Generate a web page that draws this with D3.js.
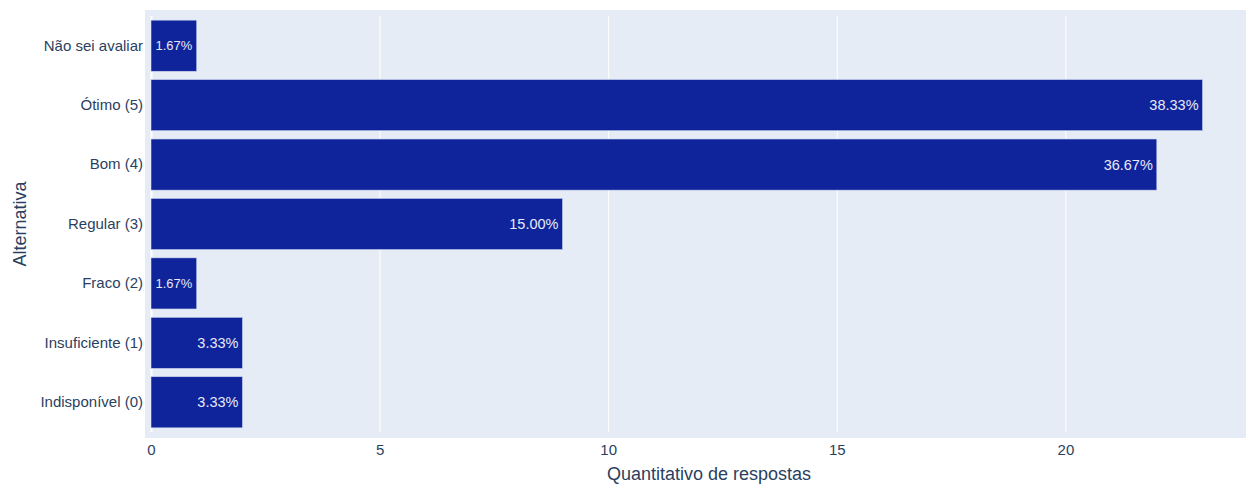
<!DOCTYPE html>
<html><head><meta charset="utf-8">
<script src="https://cdn.jsdelivr.net/npm/d3@7"></script>
<style>html,body{margin:0;padding:0;background:#fff;}svg{display:block;font-family:"Liberation Sans",Arial,sans-serif;}</style>
</head><body>
<svg id="c" width="1246" height="488"></svg>
<script>
const categories = ["Não sei avaliar","Ótimo (5)","Bom (4)","Regular (3)","Fraco (2)","Insuficiente (1)","Indisponível (0)"];
const counts = [1,23,22,9,1,2,2];
const percentLabels = ["1.67%","38.33%","36.67%","15.00%","1.67%","3.33%","3.33%"];
const xTicks = [0,5,10,15,20];

const svg = d3.select("#c");
const plot = {l:151, r:1267, t:16, b:432};
const pad = 6;
const textColor = "#2a3f5f";
const barColor = "#0f239b";

const x = d3.scaleLinear().domain([0, 24.41]).range([plot.l, plot.r]);
const y = d3.scaleBand().domain(categories).range([plot.t, plot.b]).paddingInner(0.14).paddingOuter(0.07);

svg.append("rect").attr("x", plot.l-pad).attr("y", plot.t-pad)
  .attr("width", plot.r-plot.l+2*pad).attr("height", plot.b-plot.t+2*pad).attr("fill", "#e5ecf6");

// grid
const xAxis = d3.axisBottom(x).tickValues(xTicks).tickSize(plot.b-plot.t).tickFormat(d3.format("d"));
const gx = svg.append("g").attr("transform", `translate(0,${plot.t})`).call(xAxis);
gx.select(".domain").remove();
gx.selectAll(".tick line").attr("stroke", "#fff").attr("stroke-width", d => d===0 ? 2 : 1);
gx.selectAll(".tick text").attr("fill", textColor).attr("font-size", "15px")
  .attr("y", plot.b-plot.t+12).attr("dy", "0.71em");

// bars
svg.append("g").selectAll("rect").data(categories).join("rect")
  .attr("x", x(0)).attr("y", d => y(d))
  .attr("width", (d,i) => x(counts[i]) - x(0)).attr("height", y.bandwidth())
  .attr("fill", barColor).attr("stroke", "#c8d2ec").attr("stroke-width", 0.6);

// bar labels
const baseSize = 14.5;
svg.append("g").selectAll("text").data(categories).join("text")
  .attr("x", (d,i) => x(counts[i]) - 4)
  .attr("y", d => y(d) + y.bandwidth()/2)
  .attr("dy", "0.35em").attr("text-anchor", "end")
  .attr("fill", "#e8eaf5").attr("font-size", baseSize + "px")
  .text((d,i) => percentLabels[i])
  .each(function(d,i){
    const avail = x(counts[i]) - x(0) - 9;
    const w = this.getComputedTextLength();
    if (w > avail) {
      const s = baseSize * avail / w;
      d3.select(this).attr("font-size", s + "px").attr("x", x(0) + (x(counts[i]) - x(0))/2).attr("text-anchor", "middle");
    }
  });

// y axis labels
const yAxis = d3.axisLeft(y).tickSize(0).tickPadding(0);
const gy = svg.append("g").attr("transform", `translate(${plot.l-8},0)`).call(yAxis);
gy.select(".domain").remove();
gy.selectAll(".tick text").attr("fill", textColor).attr("font-size", "15px");

// axis titles
svg.append("text").attr("x", (plot.l+plot.r)/2).attr("y", 480).attr("text-anchor", "middle")
  .attr("fill", textColor).attr("font-size", "18px").text("Quantitativo de respostas");
svg.append("text").attr("transform", `translate(26,${(plot.t+plot.b)/2}) rotate(-90)`)
  .attr("text-anchor", "middle").attr("fill", textColor).attr("font-size", "18px").text("Alternativa");
</script>
</body></html>
